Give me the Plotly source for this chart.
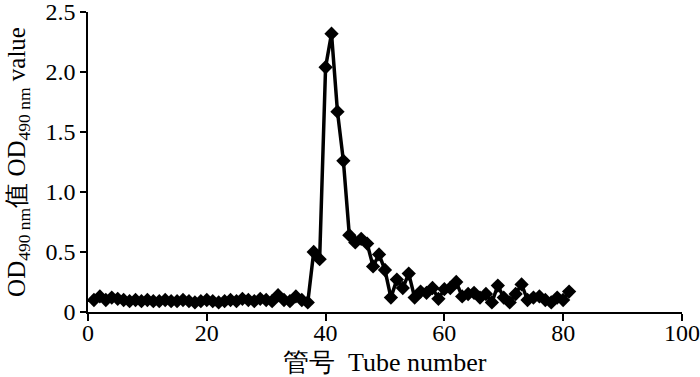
import plotly.graph_objects as go

tubes = list(range(1, 82))
od490 = [
    0.10, 0.13, 0.10, 0.12, 0.11, 0.10, 0.09, 0.10, 0.09, 0.10,
    0.09, 0.09, 0.10, 0.09, 0.09, 0.10, 0.09, 0.08, 0.09, 0.10,
    0.09, 0.08, 0.09, 0.10, 0.09, 0.11, 0.10, 0.09, 0.11, 0.10,
    0.09, 0.14, 0.10, 0.09, 0.13, 0.10, 0.08, 0.50, 0.44, 2.04,
    2.32, 1.67, 1.26, 0.64, 0.58, 0.61, 0.57, 0.38, 0.48, 0.35,
    0.12, 0.27, 0.20, 0.32, 0.12, 0.17, 0.16, 0.20, 0.11, 0.19,
    0.20, 0.25, 0.13, 0.15, 0.16, 0.12, 0.15, 0.08, 0.22, 0.12,
    0.08, 0.15, 0.23, 0.10, 0.12, 0.13, 0.10, 0.08, 0.12, 0.10,
    0.17,
]

x_ticks = [0, 20, 40, 60, 80, 100]
y_ticks = [0, 0.5, 1.0, 1.5, 2.0, 2.5]
y_tick_labels = ["0", "0.5", "1.0", "1.5", "2.0", "2.5"]
x_title = "管号  Tube number"
y_title = "OD<sub>490 nm</sub>值 OD<sub>490 nm</sub> value"

serif = "Liberation Serif"

fig = go.Figure()
fig.add_trace(go.Scatter(
    x=tubes, y=od490, mode="lines+markers",
    line=dict(color="black", width=3.5),
    marker=dict(symbol="diamond", size=11, color="black"),
    showlegend=False,
))

fig.update_layout(
    width=700, height=377,
    margin=dict(l=88, r=18, t=12, b=65),
    paper_bgcolor="white", plot_bgcolor="white",
    font=dict(family=serif, color="black", size=24),
    xaxis=dict(
        range=[0, 100.01], tickvals=x_ticks, ticks="outside", ticklen=7,
        tickwidth=1.5, tickcolor="black", showline=True, linecolor="black",
        linewidth=1.5, showgrid=False, zeroline=False, automargin=False,
        tickfont=dict(size=24, family=serif), ticklabelstandoff=-9,
        ticklabeloverflow="allow",
    ),
    yaxis=dict(
        range=[0, 2.5005], tickvals=y_ticks, ticktext=y_tick_labels,
        ticks="outside", ticklen=6, tickwidth=1.5, tickcolor="black",
        showline=True, linecolor="black", linewidth=1.5,
        showgrid=False, zeroline=False, automargin=False,
        tickfont=dict(size=24, family=serif), ticklabeloverflow="allow",
    ),
    annotations=[
        dict(text=x_title, xref="paper", yref="paper", x=0.5, y=-0.168,
             xanchor="center", yanchor="middle", showarrow=False,
             font=dict(size=26, family=serif)),
        dict(text=y_title, xref="paper", yref="paper", x=-0.118, y=0.5,
             xanchor="center", yanchor="middle", showarrow=False, textangle=-90,
             font=dict(size=25, family=serif)),
    ],
)

fig.write_html(
    "out.html",
    config={"displayModeBar": False},
    post_script="document.body.style.margin='0';document.body.style.overflow='hidden';",
)
